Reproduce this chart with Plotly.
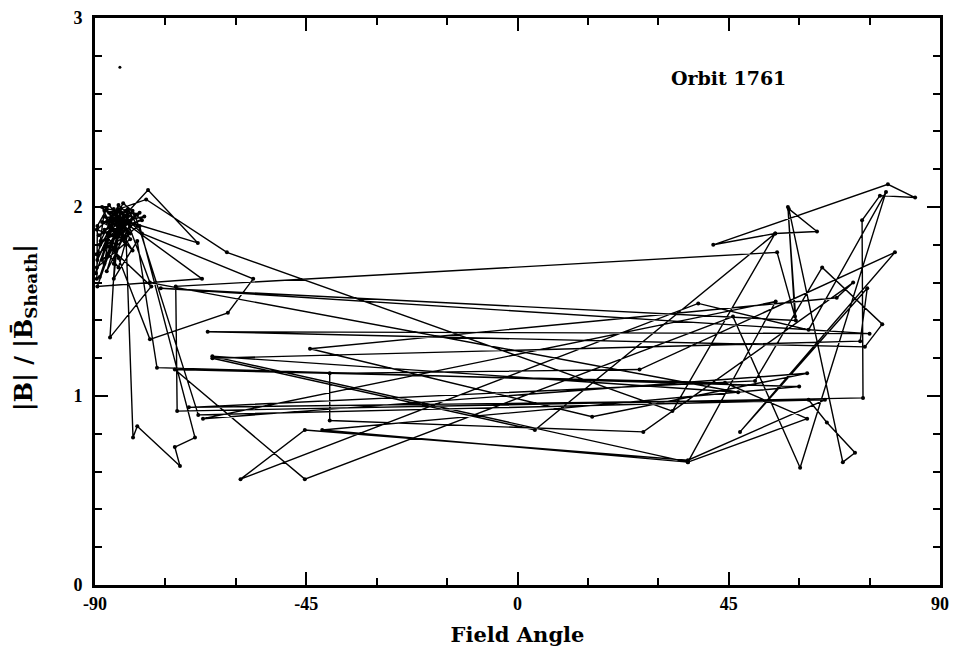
import plotly.graph_objects as go

# Field angle (deg) and |B|/|B_sheath| along the orbit, in path order
angle = [
    -89.6, -89.5, -87.0, -84.5, -86.0, -83.0, -81.0, -88.5, -85.5, -82.5,
    -89.7, -84.0, -80.0, -86.5, -78.7, -68.1, -84.0, -88.0, -83.5, -85.0,
    -89.8, -88.0, -85.0, -83.5, -86.5, -84.0, -88.8, -85.0, -82.0, -87.0,
    -89.5, -84.5, -86.0, -83.0, -88.5, -85.5, -81.0, -87.5, -84.0, -89.6,
    -86.5, -82.5, -85.0, -88.0, -83.5, -80.5, -86.0, -89.0, -84.5, -87.0,
    -79.1, -61.9, 33.0, 54.9, 41.7, 78.9, 84.7, 77.2, 73.4, 73.6,
    -72.5, -72.8, 55.3, 59.1, 57.6, 59.3, -76.0, 75.0, -66.0, 74.0,
    77.7, 64.9, 50.6, -70.0, 62.0, 65.9, 71.9, 69.3, 57.8, 63.8,
    54.9, 3.7, -65.0, 73.0, 74.5, 47.4, 80.4, 26.0, -40.0, -40.0,
    26.8, 71.5, 68.0, -44.2, 15.9, 61.7, -67.0, 55.0, 36.3, 61.7,
    44.2, -73.0, -45.3, 45.9, 60.2, 78.5, 62.0, 38.5, -59.0, -45.3,
    36.3, 65.5, -68.0, -81.5, -87.5, -84.5, -89.2, -82.0, -83.5, -81.9,
    -81.0, -71.9, -73.0, -68.7, -80.5, -86.0, -83.0, -88.5, -85.5, -86.8,
    -78.0, -87.0, -84.0, -89.5, -67.2, -86.5, -82.5, -80.0, -56.3, -61.7,
    -78.3, -85.0, -88.0, -83.5, -78.3, 47.0, -65.0, 36.3, -41.6, 60.0,
    -76.8, -81.0, -86.0, -84.5, -87.5, -82.0, -85.5, -89.0, -83.0, -79.5,
    -84.5, -88.0, -86.0, -82.5, -89.6,
]
ratio = [
    1.62, 1.90, 2.01, 1.93, 1.78, 1.99, 1.90, 1.72, 1.97, 1.86,
    1.75, 2.02, 1.93, 1.88, 2.09, 1.81, 1.93, 1.95, 1.80, 1.99,
    1.65, 1.98, 1.95, 1.98, 1.92, 1.87, 1.82, 2.01, 1.94, 1.86,
    1.72, 1.97, 1.70, 1.95, 1.92, 1.88, 1.96, 1.99, 1.83, 1.88,
    1.95, 1.90, 1.68, 1.78, 1.91, 1.97, 1.85, 1.63, 1.94, 1.97,
    2.04, 1.76, 0.92, 1.86, 1.80, 2.12, 2.05, 2.06, 1.93, 0.99,
    0.92, 1.58, 1.76, 1.42, 2.00, 1.40, 1.57, 1.33, 1.34, 1.26,
    1.38, 1.68, 1.08, 0.94, 0.98, 0.86, 0.70, 0.65, 1.99, 1.87,
    1.86, 0.82, 1.20, 1.29, 1.57, 0.81, 1.76, 1.14, 1.12, 0.87,
    0.81, 1.60, 1.52, 1.25, 0.89, 1.12, 0.88, 1.50, 0.65, 0.88,
    1.07, 1.14, 0.56, 1.42, 0.62, 2.08, 1.35, 1.49, 0.56, 0.82,
    0.66, 0.98, 0.90, 1.96, 1.66, 1.90, 1.85, 1.98, 1.92, 0.78,
    0.84, 0.63, 0.73, 0.78, 1.90, 1.93, 1.87, 2.00, 1.84, 1.31,
    1.58, 1.79, 1.96, 1.58, 1.62, 1.97, 1.92, 1.86, 1.62, 1.44,
    1.30, 1.73, 1.88, 1.95, 1.60, 1.02, 1.21, 0.65, 0.82, 1.05,
    1.15, 1.82, 1.62, 1.99, 1.92, 1.77, 1.91, 1.80, 1.93, 1.95,
    1.86, 1.70, 1.99, 1.83, 1.68,
]
stray_angle = [-84.7]
stray_ratio = [2.74]

x_ticks = [-90, -45, 0, 45, 90]
y_ticks = [0, 1, 2, 3]

tick_font = "Liberation Serif, DejaVu Serif, serif"
title_font = "DejaVu Serif, Liberation Serif, serif"

fig = go.Figure()
fig.add_trace(go.Scatter(
    x=angle, y=ratio, mode="lines+markers",
    line=dict(color="black", width=1.4),
    marker=dict(color="black", size=4),
    showlegend=False, hoverinfo="skip",
))
fig.add_trace(go.Scatter(
    x=stray_angle, y=stray_ratio, mode="markers",
    marker=dict(color="black", size=3), showlegend=False, hoverinfo="skip",
))

fig.add_annotation(
    x=45, y=2.68, text="Orbit 1761", showarrow=False, xanchor="center",
    font=dict(family=title_font, size=19, color="black", weight="bold"),
)
# y-axis title (rotated text; in the reference it sits slightly below centre)
fig.add_annotation(
    xref="paper", yref="paper", x=-0.083, y=0.455, textangle=-90,
    text="|B| / |B\u0304<sub>Sheath</sub>|", showarrow=False,
    xanchor="center", yanchor="middle",
    font=dict(family=title_font, size=24, color="black", weight="bold"),
)

axis_common = dict(
    showline=True, linecolor="black", linewidth=3, mirror="ticks",
    ticks="inside", ticklen=13, tickwidth=1.5, tickcolor="black",
    showgrid=False, zeroline=False, automargin=False,
    tickfont=dict(family=tick_font, size=18, color="black", weight="bold"),
)

fig.update_xaxes(
    range=[-90, 90], tickvals=x_ticks, ticktext=[str(v) for v in x_ticks],
    minor=dict(dtick=15, tick0=-90, ticks="inside", ticklen=7, tickwidth=1.5, tickcolor="black"),
    title=dict(text="Field Angle", standoff=15,
               font=dict(family=title_font, size=21, color="black", weight="bold")),
    **axis_common,
)
fig.update_yaxes(
    range=[0, 3], tickvals=y_ticks, ticktext=[str(v) for v in y_ticks],
    minor=dict(dtick=0.2, tick0=0, ticks="inside", ticklen=7, tickwidth=1.5, tickcolor="black"),
    ticklabelstandoff=6,
    **axis_common,
)

fig.update_layout(
    width=953, height=654,
    margin=dict(l=95, r=13, t=18, b=69),
    paper_bgcolor="white", plot_bgcolor="white",
)

fig.write_html("out.html")
